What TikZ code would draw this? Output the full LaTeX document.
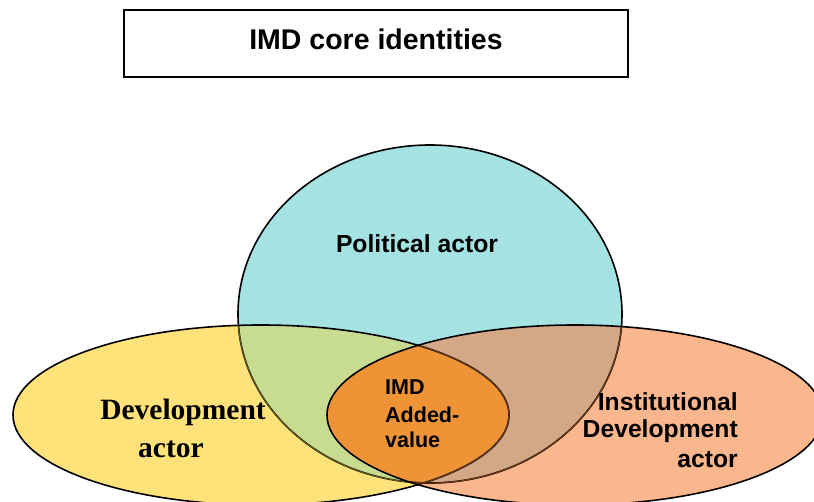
\documentclass[tikz,border=0pt]{standalone}
\usepackage{fontspec}
\setmainfont{Liberation Sans}
\newfontfamily\serifbf{Liberation Serif}
\usetikzlibrary{shapes.geometric}
\definecolor{cyanF}{RGB}{165,226,226}
\definecolor{yellowF}{RGB}{255,227,122}
\definecolor{greenF}{RGB}{200,220,145}
\definecolor{orangeF}{RGB}{250,182,140}
\definecolor{brownF}{RGB}{210,168,135}
\definecolor{lensF}{RGB}{238,148,55}
\definecolor{dimY}{RGB}{95,85,30}
\definecolor{dimO}{RGB}{105,55,25}
\begin{document}
\begin{tikzpicture}[x=1pt,y=-1pt,
  outline/.style={line width=1.6pt, draw=black},
  dimline/.style={line width=1.2pt},
  sanslbl/.style={font=\fontsize{24.7}{28}\bfseries\selectfont, inner sep=0pt, anchor=base},
  imdlbl/.style={font=\fontsize{21.5}{26}\bfseries\selectfont, inner sep=0pt, anchor=base west},
  instlbl/.style={font=\fontsize{24.7}{28}\bfseries\selectfont, inner sep=0pt, anchor=base east},
  devlbl/.style={font=\fontsize{29.5}{37}\serifbf\bfseries\selectfont, inner sep=0pt, anchor=base}]
\useasboundingbox (0,0) rectangle (814,502);
\fill[white] (0,0) rectangle (814,502);
\def\polshape{(430,314) ellipse [x radius=192pt, y radius=169pt]}
\def\devshape{(261,415) ellipse [x radius=248pt, y radius=90pt]}
\def\instshape{(575,415) ellipse [x radius=248pt, y radius=90pt]}
% named centres
\coordinate (polc) at (430,314);
\coordinate (devc) at (261,415);
\coordinate (instc) at (575,415);
% base fills
\fill[cyanF] \polshape;
\fill[yellowF] \devshape;
\fill[orangeF] \instshape;
% overlaps with the circle
\begin{scope}
  \clip \polshape;
  \fill[greenF] \devshape;
  \fill[brownF] \instshape;
\end{scope}
% lens
\begin{scope}
  \clip \devshape;
  \fill[lensF] \instshape;
\end{scope}
% outlines
\draw[outline] \polshape;
\begin{scope}
  \clip \devshape;
  \draw[dimline, draw=dimY] \polshape;
\end{scope}
\begin{scope}
  \clip \instshape;
  \draw[dimline, draw=dimO] \polshape;
\end{scope}
\draw[outline] \devshape;
\begin{scope}
  \clip \instshape;
  \draw[dimline, draw=dimO] \devshape;
\end{scope}
\draw[outline] \instshape;
% title
\node[draw=black, line width=1.5pt, minimum width=504pt, minimum height=67pt, inner sep=0pt] (titlebox) at (376,43.5) {};
\node[font=\fontsize{28.5}{32}\bfseries\selectfont, inner sep=0pt, anchor=base] (title) at (376,50) {IMD core identities};
% labels
\node[sanslbl] (pol) at (417,253) {Political actor};
\node[devlbl] (dev1) at (183,420) {Development};
\node[devlbl] (dev2) at (171,457) {actor};
\node[instlbl] (inst1) at (738,410) {Institutional};
\node[instlbl] (inst2) at (738,438) {Development};
\node[instlbl] (inst3) at (738,467) {actor};
\node[imdlbl] (imd1) at (385,395) {IMD};
\node[imdlbl] (imd2) at (385,422) {Added-};
\node[imdlbl] (imd3) at (385,447) {value};
\end{tikzpicture}
\end{document}
